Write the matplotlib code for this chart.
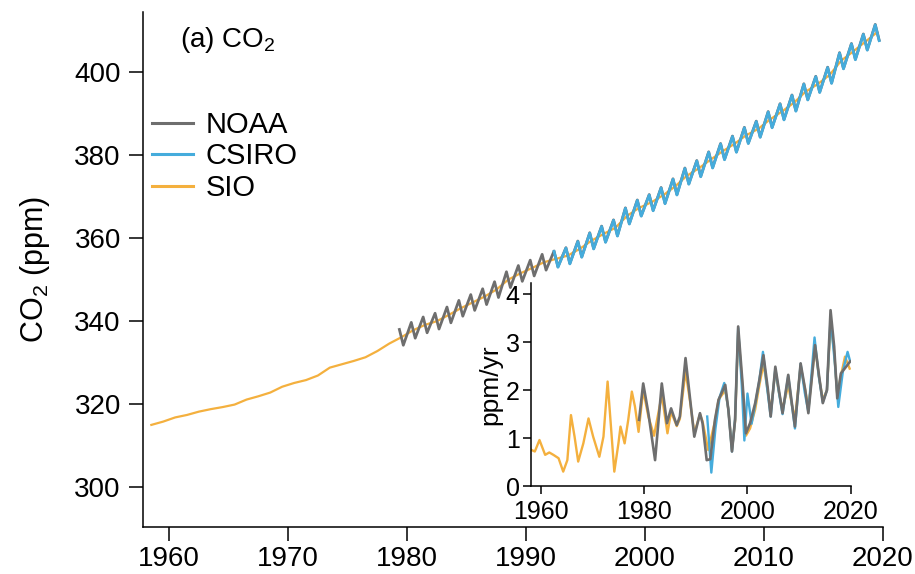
"""
Atmospheric CO2 records (NOAA, CSIRO, SIO) with growth-rate inset
"""
import matplotlib
matplotlib.use('Agg')
import matplotlib.pyplot as plt
import numpy as np

plt.rcParams['font.family'] = ['Liberation Sans', 'DejaVu Sans']
plt.rcParams['mathtext.default'] = 'regular'

NOAA_COL = '#6e6e6e'
CSIRO_COL = '#45acdc'
SIO_COL = '#f4b03e'

# SIO global mean (deseasonalised), mid-year values, ppm
sio_years = np.arange(1958, 2020) + 0.5
sio_co2 = [315.0, 315.8, 316.8, 317.4, 318.2, 318.8, 319.3, 319.9, 321.1, 321.9,
           322.8, 324.2, 325.1, 325.8, 326.9, 328.8, 329.6, 330.4, 331.3, 332.8,
           334.6, 336.1, 337.8, 339.1, 340.0, 341.5, 343.1, 344.5, 345.9, 347.6,
           350.0, 351.5, 352.8, 354.2, 355.0, 355.8, 357.4, 359.4, 361.0, 362.5,
           365.4, 367.3, 368.6, 370.3, 372.4, 375.0, 376.8, 378.9, 380.9, 382.7,
           384.8, 386.3, 388.6, 390.5, 392.6, 395.3, 397.1, 399.3, 402.8, 405.0,
           407.3, 409.6]

# NOAA monthly record: yearly seasonal maximum / minimum, ppm
noaa_years = np.arange(1979, 2020)
noaa_max = [338.0, 339.7, 341.0, 341.9, 343.4, 345.0, 346.4, 347.8, 349.5, 351.9,
            353.4, 354.7, 356.1, 356.9, 357.7, 359.3, 361.3, 362.9, 364.4, 367.3,
            369.2, 370.5, 372.2, 374.3, 376.9, 378.7, 380.8, 382.8, 384.6, 386.7,
            388.2, 390.5, 392.4, 394.5, 397.2, 399.0, 401.2, 404.7, 406.9, 409.2,
            411.5]
noaa_min = [334.2, 335.9, 337.2, 338.1, 339.6, 341.2, 342.6, 344.0, 345.7, 348.1,
            349.6, 350.9, 352.3, 353.1, 353.9, 355.5, 357.5, 359.1, 360.6, 363.5,
            365.4, 366.7, 368.4, 370.5, 373.1, 374.9, 377.0, 379.0, 380.8, 382.9,
            384.4, 386.7, 388.6, 390.7, 393.4, 395.2, 397.4, 400.9, 403.1, 405.4,
            407.7]

# CSIRO monthly record: yearly seasonal maximum / minimum, ppm
csiro_years = np.arange(1992, 2020)
csiro_max = [356.8, 357.6, 359.2, 361.2, 362.8, 364.3, 367.2, 369.1, 370.4, 372.1,
             374.2, 376.8, 378.6, 380.7, 382.7, 384.5, 386.6, 388.1, 390.4, 392.3,
             394.4, 397.1, 398.9, 401.1, 404.6, 406.8, 409.1, 411.4]
csiro_min = [353.0, 353.8, 355.4, 357.4, 359.0, 360.5, 363.4, 365.3, 366.6, 368.3,
             370.4, 373.0, 374.8, 376.9, 378.9, 380.7, 382.8, 384.3, 386.6, 388.5,
             390.6, 393.3, 395.1, 397.3, 400.8, 403.0, 405.3, 407.6]

# timing of seasonal max / min within the year
T_MAX = 0.35
T_MIN = 0.68

# growth rates (ppm/yr)
sio_gr_t = [1958.2, 1958.8, 1959.7, 1960.8, 1961.6, 1962.4, 1963.4, 1964.3, 1965.1, 1965.8,
            1966.5, 1967.2, 1968.2, 1969.2, 1970.1, 1971.3, 1972.1, 1972.9, 1973.6, 1974.2,
            1975.0, 1975.4, 1976.2, 1976.9, 1977.6, 1978.2, 1978.9, 1979.8, 1980.8, 1981.9,
            1983.4, 1984.5, 1985.2, 1986.3, 1986.9, 1988.0, 1988.9, 1989.7, 1990.8, 1991.3,
            1992.4, 1993.7, 1994.4, 1995.7, 1996.3, 1997.0, 1997.6, 1998.2, 1999.1, 1999.7,
            2000.5, 2001.5, 2002.3, 2003.1, 2003.9, 2004.5, 2005.4, 2006.1, 2006.8, 2007.9,
            2008.6, 2009.2, 2010.3, 2011.2, 2011.8, 2013.1, 2013.9, 2014.6, 2015.4, 2016.1,
            2016.8, 2017.4, 2018.1, 2018.9, 2019.8]
sio_gr = [0.75, 0.72, 0.96, 0.65, 0.70, 0.65, 0.58, 0.30, 0.54, 1.48,
          1.03, 0.51, 0.89, 1.41, 1.03, 0.61, 1.03, 2.18, 1.17, 0.30,
          0.89, 1.24, 0.89, 1.38, 1.97, 1.66, 1.13, 2.00, 1.45, 1.05,
          1.90, 1.10, 1.55, 1.25, 1.40, 2.40, 1.75, 1.10, 1.50, 1.35,
          0.75, 1.35, 1.80, 2.00, 1.60, 0.75, 1.35, 3.20, 2.00, 1.05,
          1.20, 1.60, 2.10, 2.55, 2.00, 1.55, 2.40, 1.95, 1.60, 2.10,
          1.70, 1.40, 2.50, 2.00, 1.60, 2.90, 2.25, 1.80, 2.00, 3.40,
          2.80, 1.90, 2.30, 2.70, 2.45]

noaa_gr_t = [1979.0, 1979.8, 1980.8, 1982.1, 1983.4, 1984.4, 1985.2, 1986.3, 1986.9, 1988.0,
             1988.9, 1989.7, 1990.8, 1991.3, 1992.1, 1992.8, 1993.7, 1994.4, 1995.7, 1996.3,
             1997.0, 1997.6, 1998.2, 1999.1, 1999.7, 2000.5, 2001.5, 2002.3, 2003.1, 2003.9,
             2004.5, 2005.4, 2006.1, 2006.8, 2007.9, 2008.6, 2009.2, 2010.3, 2011.2, 2011.8,
             2013.1, 2013.9, 2014.6, 2015.4, 2016.1, 2016.8, 2017.4, 2018.1, 2018.9, 2019.9]
noaa_gr = [1.38, 2.14, 1.52, 0.54, 2.14, 1.31, 1.62, 1.27, 1.45, 2.67,
           1.80, 1.03, 1.52, 1.31, 0.54, 0.56, 1.38, 1.80, 2.11, 1.59,
           0.72, 1.38, 3.33, 2.07, 1.10, 1.31, 1.73, 2.21, 2.73, 2.07,
           1.45, 2.49, 2.00, 1.52, 2.32, 1.73, 1.24, 2.56, 2.00, 1.52,
           2.94, 2.28, 1.73, 2.00, 3.67, 2.91, 1.83, 2.35, 2.46, 2.60]

csiro_gr_t = [1992.2, 1993.0, 1993.8, 1994.6, 1995.5, 1996.3, 1997.0, 1997.6, 1998.2, 1998.9,
              1999.4, 2000.0, 2000.8, 2001.5, 2002.3, 2003.0, 2003.8, 2004.5, 2005.4, 2006.1,
              2006.8, 2007.9, 2008.6, 2009.2, 2010.3, 2011.1, 2011.8, 2013.0, 2013.8, 2014.6,
              2015.4, 2016.1, 2016.9, 2017.6, 2018.5, 2019.4, 2019.9]
csiro_gr = [1.45, 0.28, 1.20, 1.85, 2.15, 1.60, 0.72, 1.40, 3.30, 2.10,
            0.95, 1.93, 1.30, 1.70, 2.20, 2.80, 2.05, 1.45, 2.45, 1.95,
            1.50, 2.30, 1.70, 1.20, 2.55, 1.95, 1.55, 3.10, 2.30, 1.75,
            2.00, 3.50, 2.60, 1.65, 2.40, 2.80, 2.60]


def seasonal(years, vmax, vmin):
    t = np.column_stack([years + T_MAX, years + T_MIN]).ravel()
    v = np.column_stack([vmax, vmin]).ravel()
    return t, v


noaa_t, noaa_v = seasonal(noaa_years, noaa_max, noaa_min)
csiro_t, csiro_v = seasonal(csiro_years, csiro_max, csiro_min)

fig = plt.figure(figsize=(9.15, 5.74), dpi=100)

# Main panel
ax = fig.add_axes([0.1563, 0.0819, 0.8087, 0.8972])
ax.plot(sio_years, sio_co2, color=SIO_COL, lw=1.6, label='SIO', zorder=2)
ax.plot(noaa_t, noaa_v, color=NOAA_COL, lw=2.0, label='NOAA', zorder=3,
        solid_joinstyle='round')
ax.plot(csiro_t, csiro_v, color=CSIRO_COL, lw=2.0, label='CSIRO', zorder=4,
        solid_joinstyle='round')

ax.set_xlim(1957.8, 2020)
ax.set_ylim(290.4, 414.5)
ax.set_xticks(range(1960, 2021, 10))
ax.set_yticks(range(300, 401, 20))
for s in ['top', 'right']:
    ax.spines[s].set_visible(False)
for s in ['left', 'bottom']:
    ax.spines[s].set_linewidth(1.1)
ax.tick_params(axis='both', labelsize=20, length=10, width=1.1)
ax.tick_params(axis='y', pad=6)
ax.tick_params(axis='x', pad=4)
ax.set_ylabel('CO$_2$ (ppm)', fontsize=22, labelpad=16)

ax.text(0.05, 0.946, '(a) CO$_2$', transform=ax.transAxes, fontsize=20,
        ha='left', va='center')

handles, labels = ax.get_legend_handles_labels()
order = [1, 2, 0]
leg = ax.legend([handles[i] for i in order], [labels[i] for i in order],
                loc='upper left', bbox_to_anchor=(0.012, 0.808), frameon=False,
                fontsize=21, handlelength=1.4, handletextpad=0.45,
                labelspacing=0.12, borderpad=0, borderaxespad=0)
for line in leg.get_lines():
    line.set_linewidth(2.2)

# Inset: growth rate
ins = fig.add_axes([0.58, 0.1533, 0.3497, 0.3531])
ins.patch.set_alpha(0)
ins.plot(sio_gr_t, sio_gr, color=SIO_COL, lw=1.7, zorder=2, solid_joinstyle='round')
ins.plot(csiro_gr_t, csiro_gr, color=CSIRO_COL, lw=1.7, zorder=3, solid_joinstyle='round')
ins.plot(noaa_gr_t, noaa_gr, color=NOAA_COL, lw=1.9, zorder=4, solid_joinstyle='round')
ins.set_xlim(1958, 2020)
ins.set_ylim(0, 4.23)
ins.set_xticks([1960, 1980, 2000, 2020])
ins.set_yticks(range(0, 5))
for s in ['top', 'right']:
    ins.spines[s].set_visible(False)
for s in ['left', 'bottom']:
    ins.spines[s].set_linewidth(1.1)
ins.tick_params(axis='both', labelsize=18, length=6, width=1.1)
ins.tick_params(axis='y', pad=2)
ins.tick_params(axis='x', pad=4)
ins.set_ylabel('ppm/yr', fontsize=19, labelpad=2)

fig.savefig('out.png', dpi=100)
